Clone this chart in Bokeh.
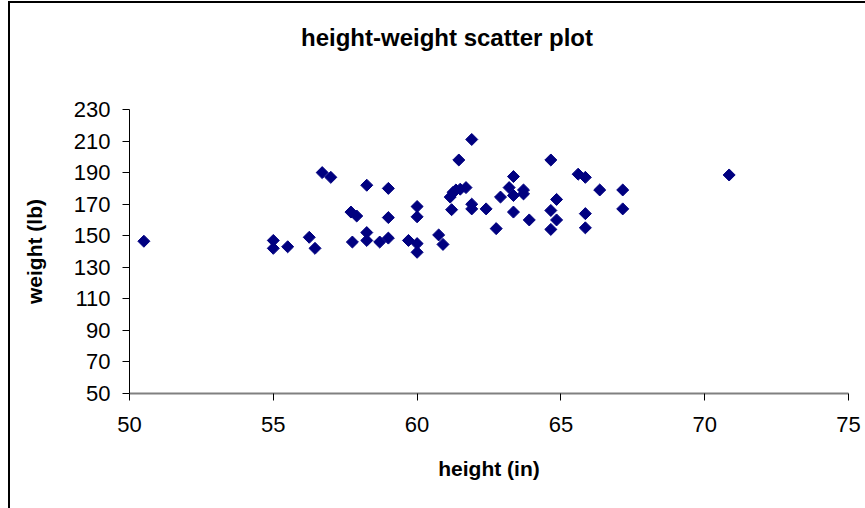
import numpy as np
from bokeh.plotting import figure
from bokeh.models import Range1d, FixedTicker, ColumnDataSource, Div
from bokeh.layouts import column
from bokeh.embed import file_html
from bokeh.resources import INLINE

title_text = "height-weight scatter plot"
x_label = "height (in)"
y_label = "weight (lb)"
x_ticks = [50, 55, 60, 65, 70, 75]
y_ticks = [50, 70, 90, 110, 130, 150, 170, 190, 210, 230]

height_in = [50.5, 55.0, 55.0, 55.5, 56.25, 56.45, 56.7, 57.0, 57.7, 57.9,
             57.75, 58.25, 58.25, 58.25, 58.7, 59.0, 59.0, 59.0, 59.7, 60.0,
             60.0, 60.0, 60.0, 60.75, 60.9, 61.2, 61.15, 61.25, 61.35, 61.5,
             61.7, 61.45, 61.9, 61.9, 61.9, 62.4, 62.75, 62.9, 63.2, 63.35,
             63.35, 63.35, 63.7, 63.7, 63.9, 64.65, 64.85, 64.65, 64.85, 64.65,
             65.6, 65.85, 65.85, 65.85, 66.35, 67.15, 67.15, 70.85]
weight_lb = [146.5, 147.0, 142.0, 143.0, 149.0, 142.0, 190.0, 187.0, 165.0, 162.5,
             146.0, 182.0, 152.0, 147.0, 146.0, 180.0, 161.5, 148.5, 147.0, 168.5,
             162.0, 145.0, 139.5, 150.5, 144.5, 166.5, 174.5, 177.5, 179.0, 179.5,
             180.5, 198.0, 211.0, 170.0, 167.0, 167.0, 154.5, 174.5, 180.5, 187.5,
             175.5, 165.0, 179.0, 176.5, 160.0, 198.0, 173.0, 166.0, 160.0, 154.0,
             189.0, 187.0, 164.0, 155.0, 179.0, 179.0, 167.0, 188.5]

src = ColumnDataSource(dict(x=height_in, y=weight_lb))
font = "Liberation Sans"

title_div = Div(
    text=('<div style="margin-left:19px;width:836px;text-align:center;'
          'margin-top:21px;line-height:28px;font-family:\'Liberation Sans\';'
          'font-weight:bold;font-size:24px;color:black;white-space:nowrap">'
          + title_text + '</div>'),
    width=855, height=60, margin=0)

p = figure(width=855, height=445,
           x_range=Range1d(50, 75), y_range=Range1d(50, 230),
           output_backend="svg", toolbar_location=None,
           min_border_left=119, min_border_right=17,
           min_border_top=46, min_border_bottom=115, margin=0)

p.grid.visible = False
p.outline_line_color = None
p.background_fill_color = "white"
p.border_fill_color = "white"

p.scatter("x", "y", source=src, marker="square", angle=np.pi / 4, size=8.5,
          fill_color="#000080", line_color="#000080")

for ax in (p.xaxis[0], p.yaxis[0]):
    ax.major_label_text_font = font
    ax.major_label_text_font_size = "22px"
    ax.major_label_text_color = "black"
    ax.axis_label_text_font = font
    ax.axis_label_text_font_size = "21px"
    ax.axis_label_text_font_style = "bold"
    ax.axis_label_text_color = "black"
    ax.minor_tick_line_color = None
    ax.major_tick_in = 0
    ax.major_tick_out = 7
    ax.major_tick_line_color = "black"

p.xaxis[0].ticker = FixedTicker(ticks=x_ticks)
p.yaxis[0].ticker = FixedTicker(ticks=y_ticks)
p.xaxis[0].axis_label = x_label
p.yaxis[0].axis_label = y_label
p.xaxis[0].major_label_standoff = 16
p.yaxis[0].major_label_standoff = 12
p.xaxis[0].axis_label_standoff = 22
p.yaxis[0].axis_label_standoff = 25
p.xaxis[0].axis_line_color = "#808080"
p.xaxis[0].axis_line_width = 2
p.yaxis[0].axis_line_color = "black"

layout = column(title_div, p, spacing=0)
layout.styles = {"margin-left": "8px", "margin-top": "1px",
                 "border-left": "2px solid black", "border-top": "2px solid black",
                 "background-color": "white"}

open("out.html", "w").write(file_html(layout, INLINE))
